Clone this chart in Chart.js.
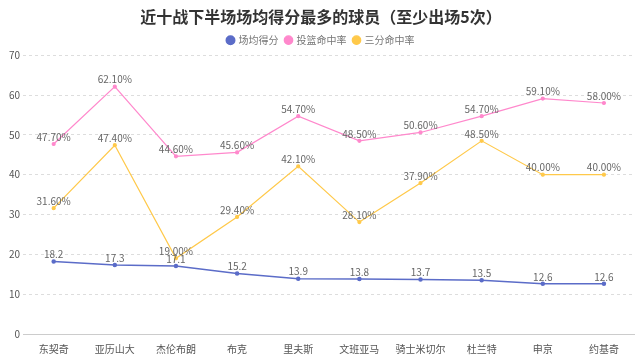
<!DOCTYPE html>
<html>
<head>
<meta charset="utf-8">
<script src="https://cdn.jsdelivr.net/npm/chart.js@4"></script>
<style>
  html, body { margin: 0; padding: 0; background: #fff; }
  #wrap { width: 640px; height: 362px; }
</style>
</head>
<body>
<div id="wrap"><canvas id="c"></canvas></div>
<script>
const players = ['东契奇', '亚历山大', '杰伦布朗', '布克', '里夫斯', '文班亚马', '骑士米切尔', '杜兰特', '申京', '约基奇'];
const avgPoints = [18.2, 17.3, 17.1, 15.2, 13.9, 13.8, 13.7, 13.5, 12.6, 12.6];
const fgPct = [47.7, 62.1, 44.6, 45.6, 54.7, 48.5, 50.6, 54.7, 59.1, 58.0];
const threePct = [31.6, 47.4, 19.0, 29.4, 42.1, 28.1, 37.9, 48.5, 40.0, 40.0];

const FONT = "'Noto Sans CJK SC', 'DejaVu Sans', sans-serif";

// draw value labels above each point
const pointLabels = {
    id: 'pointLabels',
    afterDatasetsDraw(chart) {
        const ctx = chart.ctx;
        ctx.save();
        ctx.font = '10px ' + FONT;
        ctx.fillStyle = '#666';
        ctx.textAlign = 'center';
        ctx.textBaseline = 'bottom';
        chart.data.datasets.forEach((ds, i) => {
            const meta = chart.getDatasetMeta(i);
            meta.data.forEach((pt, j) => {
                const v = ds.data[j];
                const txt = ds.pct ? v.toFixed(2) + '%' : v.toFixed(1);
                ctx.fillText(txt, pt.x, pt.y - 2);
            });
        });
        ctx.restore();
    }
};

new Chart(document.getElementById('c'), {
    type: 'line',
    data: {
        labels: players,
        datasets: [
            { label: '场均得分', data: avgPoints, borderColor: '#5b6cc8', backgroundColor: '#5b6cc8', borderWidth: 1.5, pointRadius: 1.5, pct: false },
            { label: '投篮命中率', data: fgPct, borderColor: '#ff88cc', backgroundColor: '#ff88cc', borderWidth: 1.2, pointRadius: 1.5, pct: true },
            { label: '三分命中率', data: threePct, borderColor: '#ffc94a', backgroundColor: '#ffc94a', borderWidth: 1.2, pointRadius: 1.5, pct: true }
        ]
    },
    options: {
        responsive: true,
        maintainAspectRatio: false,
        animation: false,
        layout: { padding: { left: 6, right: 4, top: 5, bottom: 6 } },
        plugins: {
            title: {
                display: true,
                text: '近十战下半场场均得分最多的球员（至少出场5次）',
                color: '#333',
                font: { family: FONT, size: 16, weight: 'bold' },
                padding: { top: 2, bottom: 2 }
            },
            legend: {
                position: 'top',
                labels: {
                    usePointStyle: true,
                    pointStyle: 'circle',
                    boxWidth: 6,
                    boxHeight: 6,
                    color: '#777',
                    font: { family: FONT, size: 10 },
                    padding: 7
                }
            },
            tooltip: { enabled: false }
        },
        scales: {
            x: {
                offset: true,
                grid: { display: false },
                border: { color: '#ccc' },
                ticks: { color: '#555', font: { family: FONT, size: 10 }, padding: 1 }
            },
            y: {
                min: 0,
                max: 70,
                ticks: { stepSize: 10, color: '#555', font: { family: FONT, size: 10 } },
                border: { display: false, dash: [3, 3] },
                grid: { color: '#ddd', drawTicks: false }
            }
        }
    },
    plugins: [pointLabels]
});
</script>
</body>
</html>
